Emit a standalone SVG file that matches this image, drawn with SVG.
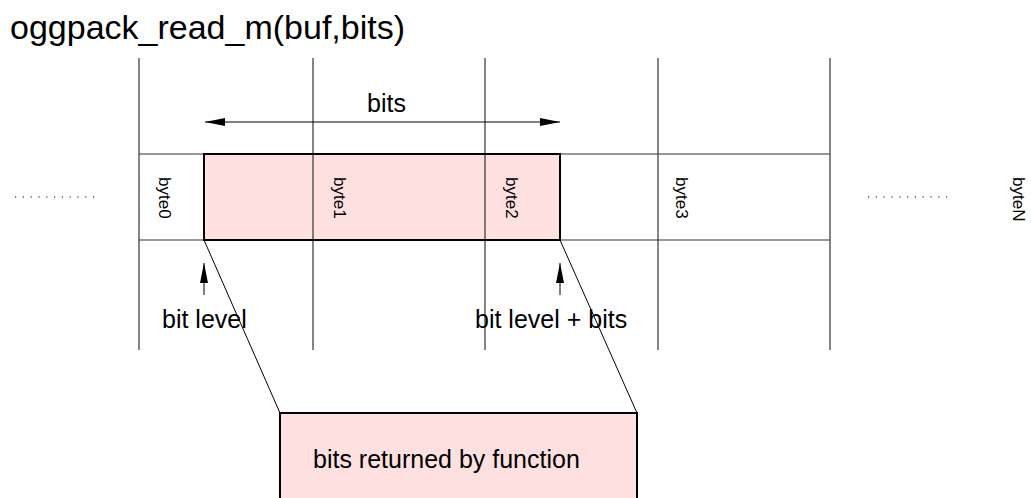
<svg xmlns="http://www.w3.org/2000/svg" width="1031" height="498" viewBox="0 0 1031 498">
  <defs>
    <marker id="head" viewBox="0 0 20 8" refX="20" refY="4" markerWidth="20" markerHeight="8" markerUnits="userSpaceOnUse" orient="auto-start-reverse">
      <path d="M0,0 L20,4 L0,8 Z" fill="#000"/>
    </marker>
    <style>
      text { font-family: "Liberation Sans", Arial, sans-serif; fill: #000; }
      .title { font-size: 34px; }
      .label { font-size: 25px; }
      .byte { font-size: 17px; }
      .grid { stroke: #333; stroke-width: 1.2; fill: none; }
      .sel { fill: #ffe0e0; stroke: #000; stroke-width: 2; }
      .sel-fill { fill: #ffe0e0; stroke: none; }
      .thin { stroke: #000; stroke-width: 1; fill: none; }
      .dots { stroke: #555; stroke-width: 1.4; stroke-dasharray: 1.2 6.6; fill: none; }
    </style>
  </defs>

  <rect width="1031" height="498" fill="#fff"/>

  <text id="title" class="title" x="10" y="39">oggpack_read_m(buf,bits)</text>

  <!-- selected bit range background -->
  <rect class="sel-fill" x="204" y="154" width="356" height="86"/>

  <!-- byte cells -->
  <g id="byte-grid">
    <line class="grid" x1="139" y1="58" x2="139" y2="350"/>
    <line class="grid" x1="313" y1="58" x2="313" y2="350"/>
    <line class="grid" x1="485" y1="58" x2="485" y2="350"/>
    <line class="grid" x1="658" y1="58" x2="658" y2="350"/>
    <line class="grid" x1="830" y1="58" x2="830" y2="350"/>
    <line class="grid" x1="139" y1="154" x2="830" y2="154"/>
    <line class="grid" x1="139" y1="240" x2="830" y2="240"/>
  </g>

  <g id="byte0"><text class="byte" transform="translate(158.5,177) rotate(90)">byte0</text></g>
  <g id="byte1"><text class="byte" transform="translate(333.5,177) rotate(90)">byte1</text></g>
  <g id="byte2"><text class="byte" transform="translate(505.5,177) rotate(90)">byte2</text></g>
  <g id="byte3"><text class="byte" transform="translate(675.5,177) rotate(90)">byte3</text></g>
  <g id="byteN"><text class="byte" transform="translate(1012.5,177) rotate(90)">byteN</text></g>

  <g id="ellipsis">
    <line class="dots" x1="15" y1="197" x2="96" y2="197"/>
    <line class="dots" x1="868" y1="197" x2="949" y2="197"/>
  </g>

  <!-- outline of the selected bit range -->
  <g id="selection">
    <rect x="204" y="154" width="356" height="86" fill="none" stroke="#000" stroke-width="2"/>
  </g>

  <g id="result">
    <rect class="sel" x="280" y="413" width="357" height="100"/>
    <text class="label" x="313" y="468">bits returned by function</text>
  </g>

  <g id="connectors">
    <line class="thin" x1="205" y1="122" x2="560" y2="122" marker-start="url(#head)" marker-end="url(#head)"/>
    <line class="thin" x1="204" y1="295" x2="204" y2="263" marker-end="url(#head)"/>
    <line class="thin" x1="560" y1="295" x2="560" y2="263" marker-end="url(#head)"/>
    <line class="thin" x1="204" y1="240" x2="280" y2="413"/>
    <line class="thin" x1="560" y1="240" x2="637" y2="413"/>
  </g>

  <g id="labels">
    <text class="label" x="367" y="112">bits</text>
    <text class="label" x="162" y="328">bit level</text>
    <text class="label" x="475" y="328">bit level + bits</text>
  </g>
</svg>
